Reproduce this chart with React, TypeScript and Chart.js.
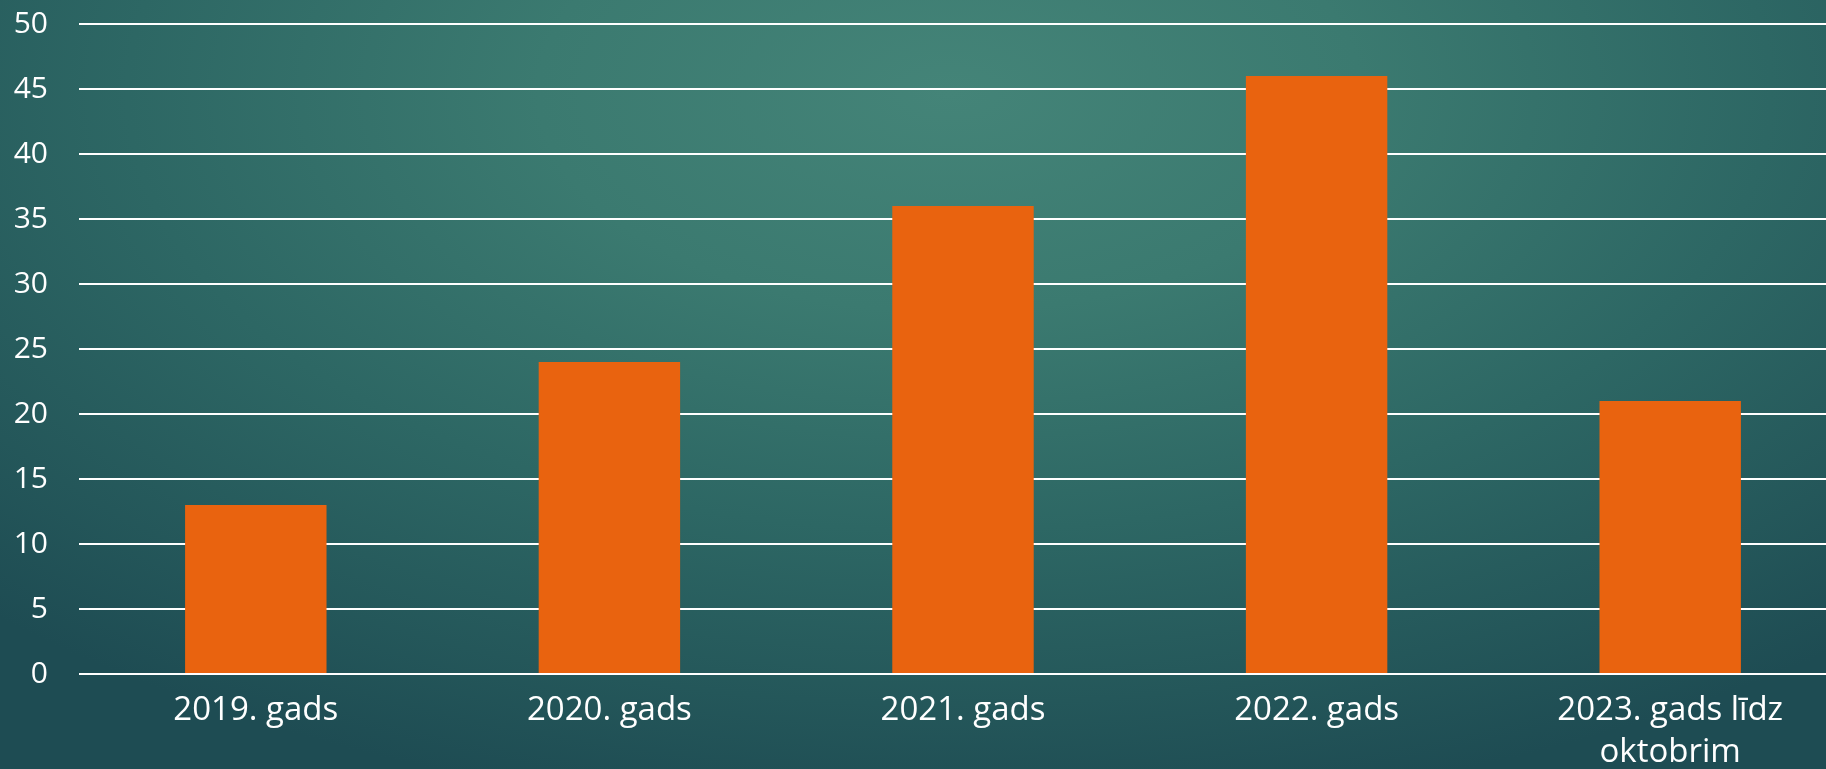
import React, { useEffect, useRef } from "react";
import { Chart, registerables } from "chart.js";

Chart.register(...registerables);

const categories: (string | string[])[] = [
  "2019. gads",
  "2020. gads",
  "2021. gads",
  "2022. gads",
  ["2023. gads līdz", "oktobrim"],
];
const values: number[] = [13, 24, 36, 46, 21];
const yMin = 0;
const yMax = 50;
const yStep = 5;

export default function App() {
  const ref = useRef<HTMLCanvasElement | null>(null);

  useEffect(() => {
    if (!ref.current) return;
    const family = "'Open Sans', 'DejaVu Sans', sans-serif";
    const chart = new Chart(ref.current, {
      type: "bar",
      data: {
        labels: categories,
        datasets: [
          {
            data: values,
            backgroundColor: "#E9630F",
            borderWidth: 0,
            categoryPercentage: 1,
            barPercentage: 0.4,
          },
        ],
      },
      options: {
        responsive: false,
        animation: false,
        layout: { padding: { top: 24, left: 0, right: 0, bottom: 0 } },
        plugins: { legend: { display: false }, tooltip: { enabled: false } },
        scales: {
          x: {
            grid: { display: false, drawTicks: false },
            border: { display: false },
            ticks: {
              color: "#ffffff",
              font: { family, size: 33, lineHeight: 1.27 },
              padding: 16,
              maxRotation: 0,
              autoSkip: false,
            },
            afterFit: (s: any) => {
              s.height = 95;
              s.paddingLeft = 0;
              s.paddingRight = 0;
            },
          },
          y: {
            min: yMin,
            max: yMax,
            grid: { color: "#ffffff", lineWidth: 2, drawTicks: false },
            border: { display: false },
            ticks: { stepSize: yStep, color: "#ffffff", font: { family, size: 30 }, padding: 31 },
            afterFit: (s: any) => {
              s.width = 79;
              s.paddingTop = 0;
              s.paddingBottom = 0;
            },
          },
        },
      },
    });
    return () => chart.destroy();
  }, []);

  return (
    <div
      style={{
        position: "fixed",
        left: 0,
        top: 0,
        width: 1826,
        height: 769,
        overflow: "hidden",
        background:
          "radial-gradient(ellipse 75% 95% at 52% 12%, #448478 0%, #3b7a70 30%, #2d6764 60%, #1e4c53 100%)",
      }}
    >
      <canvas
        ref={ref}
        width={1847}
        height={769}
        style={{ position: "absolute", left: 0, top: 0, width: 1847, height: 769 }}
      />
    </div>
  );
}
